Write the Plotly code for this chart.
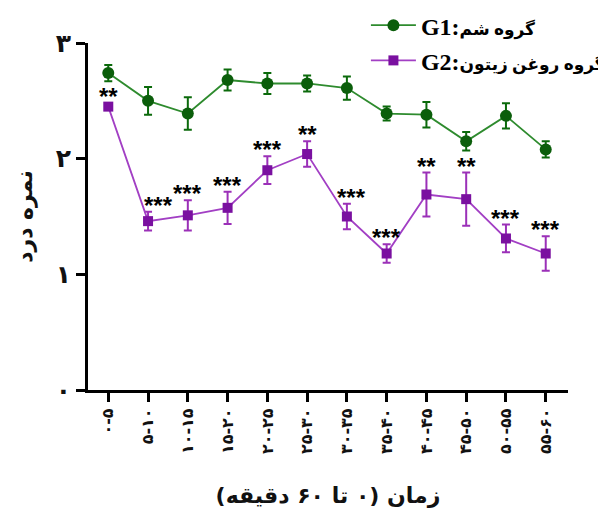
import plotly.graph_objects as go

categories = ["۰-۵", "۵-۱۰", "۱۰-۱۵", "۱۵-۲۰", "۲۰-۲۵", "۲۵-۳۰",
              "۳۰-۳۵", "۳۵-۴۰", "۴۰-۴۵", "۴۵-۵۰", "۵۰-۵۵", "۵۵-۶۰"]
g1_values = [2.74, 2.50, 2.39, 2.68, 2.65, 2.65, 2.61, 2.39, 2.38, 2.15, 2.37, 2.08]
g1_errors = [0.07, 0.12, 0.14, 0.09, 0.09, 0.07, 0.10, 0.06, 0.11, 0.08, 0.11, 0.07]
g2_values = [2.45, 1.46, 1.51, 1.575, 1.90, 2.04, 1.50, 1.18, 1.69, 1.65, 1.31, 1.18]
g2_errors = [0.03, 0.08, 0.13, 0.14, 0.12, 0.11, 0.11, 0.08, 0.19, 0.23, 0.12, 0.15]
significance = ["**", "***", "***", "***", "***", "**", "***", "***", "**", "**", "***", "***"]
y_ticks = [0, 1, 2, 3]
y_ticktext = ["۰", "۱", "۲", "۳"]

g1_name = "<b>G1:</b><b><span style='font-size:17px'>گروه شم</span></b>"
g2_name = "<b>G2:</b><b><span style='font-size:17px'>گروه روغن زیتون</span></b>"

x = list(range(len(categories)))

fig = go.Figure()
fig.add_trace(go.Scatter(
    x=x, y=g1_values, name=g1_name, legendgroup="g1", mode="lines+markers",
    line=dict(color="#2e8b2e", width=1.8),
    marker=dict(symbol="circle", size=12, color="#0b5e0b"),
    error_y=dict(type="data", array=g1_errors, visible=True,
                 color="#0b6a0b", thickness=2, width=4),
))
fig.add_trace(go.Scatter(
    x=x, y=g2_values, name=g2_name, legendgroup="g2", mode="lines+markers",
    line=dict(color="#a23fc4", width=1.8),
    marker=dict(symbol="square", size=10, color="#7a10a0"),
    error_y=dict(type="data", array=g2_errors, visible=True,
                 color="#9b30b8", thickness=2, width=4),
))

xshifts = {1: 10, 6: 5}
for i, (v, e, s) in enumerate(zip(g2_values, g2_errors, significance)):
    fig.add_annotation(
        x=i, y=v + e, text="<b>%s</b>" % s, showarrow=False,
        yanchor="bottom", yshift=-9, xshift=xshifts.get(i, 0),
        font=dict(family="Liberation Sans", size=24, color="black"),
    )

fig.update_layout(
    width=598, height=500,
    margin=dict(l=80, r=38, t=35, b=118, autoexpand=False),
    paper_bgcolor="white", plot_bgcolor="white",
    showlegend=True,
    legend=dict(x=0.579, y=1.115, xanchor="left", yanchor="top",
                font=dict(family="Liberation Serif, DejaVu Sans", size=24, color="black"),
                itemwidth=45, tracegroupgap=1, bgcolor="rgba(0,0,0,0)"),
    font=dict(family="DejaVu Sans", color="#111111"),
)
fig.update_xaxes(
    range=[-0.51, 11.56], tickvals=x, ticktext=categories, tickangle=-90,
    showline=True, linecolor="black", linewidth=3, ticks="outside",
    ticklen=9, tickwidth=2.5, tickcolor="black", showgrid=False, zeroline=False,
    tickfont=dict(family="DejaVu Sans", size=16, color="#111111", weight="bold"),
    title=dict(text="<b>زمان (۰ تا ۶۰ دقیقه)\u200f</b>", standoff=36,
               font=dict(family="DejaVu Sans", size=22, color="#111111")),
    automargin=False,
)
fig.update_yaxes(
    range=[0, 3], tickvals=y_ticks, ticktext=y_ticktext,
    showline=True, linecolor="black", linewidth=3, ticks="outside",
    ticklen=9, tickwidth=2.5, tickcolor="black", showgrid=False, zeroline=False,
    tickfont=dict(family="DejaVu Sans", size=25, color="#111111", weight="bold"),
    title=dict(text="<b>نمره درد</b>", standoff=18,
               font=dict(family="DejaVu Sans", size=22, color="#111111")),
    automargin=False,
)

fig.write_html("out.html")
